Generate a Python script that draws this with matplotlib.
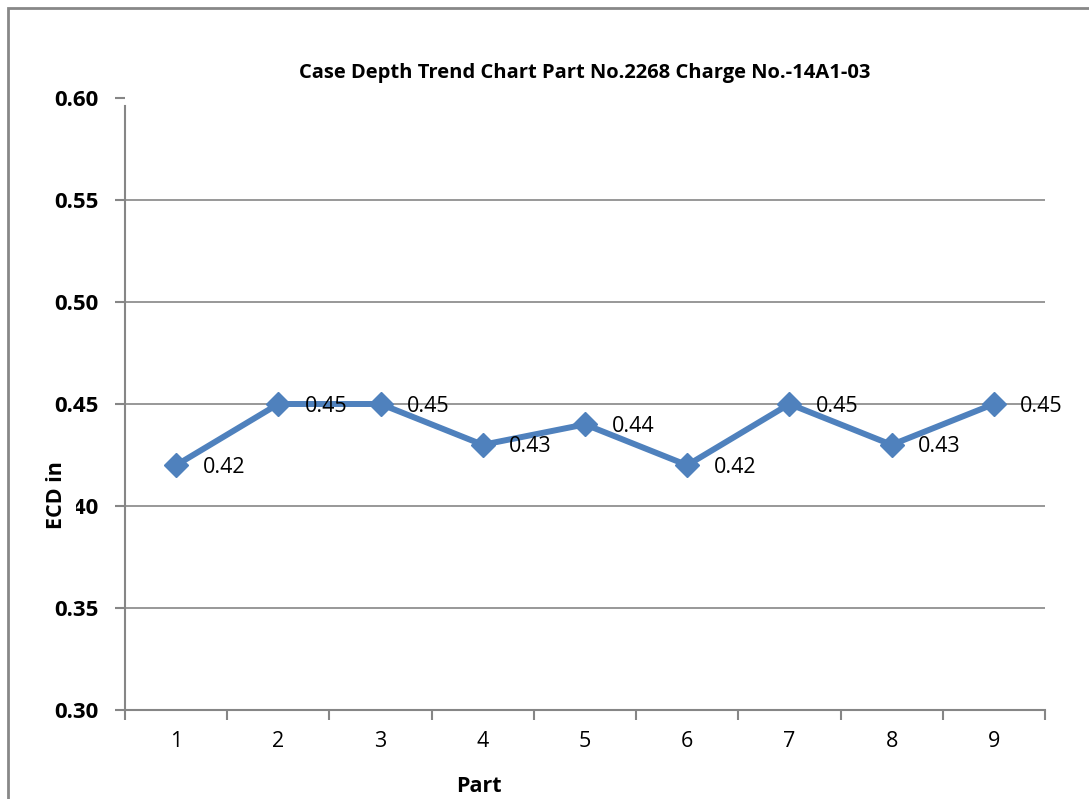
import matplotlib
matplotlib.use("Agg")
import matplotlib.pyplot as plt
from matplotlib.patches import Rectangle

parts = [1, 2, 3, 4, 5, 6, 7, 8, 9]
ecd = [0.42, 0.45, 0.45, 0.43, 0.44, 0.42, 0.45, 0.43, 0.45]
yticks = [0.30, 0.35, 0.40, 0.45, 0.50, 0.55, 0.60]
title = "Case Depth Trend Chart Part No.2268 Charge No.-14A1-03"

plt.rcParams['font.family'] = ['Open Sans', 'DejaVu Sans']

W, H = 1089, 799
fig = plt.figure(figsize=(W / 100, H / 100), dpi=100)
ax = fig.add_axes([125 / W, 1 - 710 / H, (1045 - 125) / W, (710 - 98) / H])

grid_c = '#868686'
line_c = '#4F81BD'

# border of chart area
fig.patches.append(Rectangle((8, -20), W + 40, H - 8 + 20, transform=None,
                             fill=False, edgecolor='#888888', linewidth=2))

ax.plot(parts, ecd, color=line_c, linewidth=4.3, marker='D', markersize=12,
        markerfacecolor=line_c, markeredgecolor=line_c, zorder=3)
for x, y in zip(parts, ecd):
    ax.annotate(f"{y:.2f}", (x, y), xytext=(19, -1.5), textcoords='offset points',
                ha='left', va='center', fontsize=15.5, color='black')

ax.set_xlim(0.5, 9.5)
ax.set_ylim(0.30, 0.60)
ax.set_yticks(yticks)
ax.set_yticklabels([f"{v:.2f}" for v in yticks], fontsize=16, fontweight='bold')
ax.set_xticks(parts)
ax.set_xticklabels([str(p) for p in parts], fontsize=15.5)
ax.set_xticks([p + 0.5 for p in [0] + parts], minor=True)
ax.tick_params(axis='x', which='major', length=0, pad=15)
ax.tick_params(axis='x', which='minor', length=7, width=1.5, color=grid_c)
ax.tick_params(axis='y', length=7, width=1.5, color=grid_c, pad=12)

for v in yticks[1:-1]:
    ax.axhline(v, color=grid_c, linewidth=1.2, zorder=1)

for s in ['top', 'right']:
    ax.spines[s].set_visible(False)
for s in ['left', 'bottom']:
    ax.spines[s].set_color(grid_c)
    ax.spines[s].set_linewidth(1.5)
ax.spines['left'].set_bounds(0.30, 0.596)

fig.text(585 / W, 1 - 73 / H, title, ha='center', va='center',
         fontsize=14.5, fontweight='bold')
fig.text(57 / W, 1 - 495 / H, "ECD in", ha='center', va='center',
         rotation=90, fontsize=15.5, fontweight='bold', zorder=5,
         bbox=dict(facecolor='white', edgecolor='none', pad=6))
fig.text(479 / W, 1 - 786 / H, "Part", ha='center', va='center',
         fontsize=15.5, fontweight='bold')

fig.savefig("out.png", dpi=100)
